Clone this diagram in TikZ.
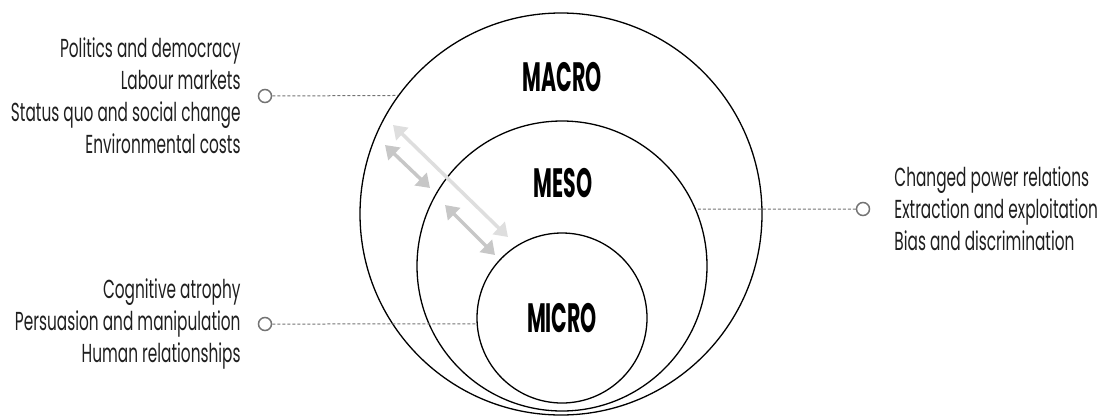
\documentclass[tikz,border=0pt]{standalone}
\usepackage{fontspec}
\setmainfont{Poppins}[FakeStretch=0.59]
\newfontfamily\levelfont{Poppins}[FakeStretch=0.5]
\usetikzlibrary{positioning, arrows.meta}

\begin{document}
\begin{tikzpicture}[x=1pt, y=-1pt, >={Triangle[width=17pt, length=13pt]}]
  \tikzset{
    ring/.style={draw, circle, line width=1.3pt, inner sep=0pt},
    lvl/.style={font=\levelfont\bfseries\fontsize{41}{41}\selectfont},
    dot/.style={draw=black!55, circle, line width=1.5pt, minimum size=13pt, inner sep=0pt},
    conn/.style={draw=black!55, dash pattern=on 3pt off 2pt, line width=1pt},
    topic/.style={inner sep=0pt, font=\fontsize{26}{32}\selectfont, text=black!88},
    link/.style={<->, line width=3.5pt},
  }
  \useasboundingbox (0,0) rectangle (1107,418);

  % the three levels
  \node[ring, minimum size=402pt] (macro) at (561,214) {};
  \node[ring, minimum size=290pt] (meso) at (562,266) {};
  \node[ring, minimum size=170pt] (micro) at (562,318) {};
  \node[lvl] (macrolbl) at (562,77) {MACRO};
  \node[lvl] (mesolbl) at (563,183) {MESO};
  \node[lvl] (microlbl) at (562,318) {MICRO};

  % interaction arrows
  \coordinate (l1) at (393,125);
  \coordinate (l2) at (508,237);
  \coordinate (s1) at (385,145);
  \coordinate (s2) at (430,188);
  \coordinate (t1) at (445,205);
  \coordinate (t2) at (495,255);
  \draw[link, draw=black!13, fill=black!13] (l1) -- (l2);
  \draw[link, draw=black!22, fill=black!22] (s1) -- (s2);
  \draw[link, draw=black!22, fill=black!22] (t1) -- (t2);

  % topics
  \node[dot] (pol) at (265,96) {};
  \node[dot] (pow) at (863,209) {};
  \node[dot] (cog) at (265,324) {};
  \node[topic, align=right, left=17pt of pol] (poltxt)
    {Politics and democracy\\Labour markets\\Status quo and social change\\Environmental costs};
  \node[topic, align=left, right=24pt of pow] (powtxt)
    {Changed power relations\\Extraction and exploitation\\Bias and discrimination};
  \node[topic, align=right, left=17pt of cog] (cogtxt)
    {Cognitive atrophy\\Persuasion and manipulation\\Human relationships};
  \draw[conn] (pol) -- (macro.144.1);
  \draw[conn] (pow) -- (meso.23.2);
  \draw[conn] (cog) -- (micro.184);
\end{tikzpicture}
\end{document}
